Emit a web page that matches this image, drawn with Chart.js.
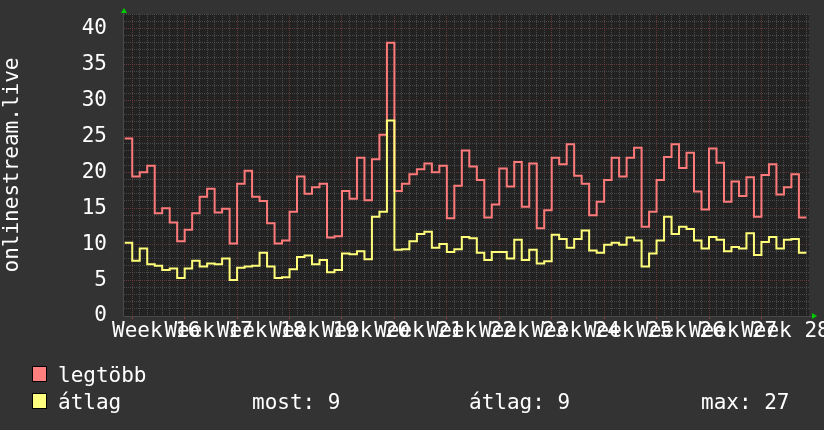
<!DOCTYPE html>
<html>
<head>
<meta charset="utf-8">
<script src="https://cdn.jsdelivr.net/npm/chart.js@4"></script>
<style>
    body { margin: 0; background: #333333; }
    #wrap { position: relative; width: 824px; height: 430px; overflow: hidden; }
    #chart { position: absolute; left: 0; top: 0; }
    .txt { position: absolute; font: 21px "DejaVu Sans Mono", monospace; line-height: 21px; color: #ffffff; white-space: pre; }
    .box { position: absolute; width: 15px; height: 16px; box-sizing: border-box; border: 1px solid #000; }
</style>
</head>
<body>
<div id="wrap">
    <canvas id="chart" width="824" height="430"></canvas>
    <div class="box" style="left:32px; top:366px; background:#ff7f7f"></div>
    <div class="txt" style="left:58px; top:365px">legtöbb</div>
    <div class="box" style="left:32px; top:393px; background:#ffff7f"></div>
    <div class="txt" style="left:58px; top:392px">átlag</div>
    <div class="txt" id="statNow" style="left:252px; top:392px"></div>
    <div class="txt" id="statAvg" style="left:469px; top:392px"></div>
    <div class="txt" id="statMax" style="left:701px; top:392px"></div>
</div>
<script>
// daily values
const legtobb = [
    24.7, 19.4, 20.0, 20.9, 14.3, 15.0, 13.0, 10.4, 12.0, 14.3, 16.6, 17.7, 14.4, 14.9, 10.1,
    18.4, 20.2, 16.6, 16.0, 12.9, 10.1, 10.5, 14.5, 19.4, 17.0, 17.9, 18.4, 10.9, 11.1, 17.4,
    16.3, 22.0, 16.1, 21.8, 25.2, 38.0, 17.4, 18.4, 19.7, 20.4, 21.2, 20.0, 20.9, 13.6, 18.1,
    23.0, 20.8, 18.9, 13.7, 15.5, 20.5, 18.0, 21.4, 15.2, 21.2, 12.2, 14.7, 22.0, 21.1, 23.9,
    19.5, 18.4, 14.0, 15.9, 18.9, 22.0, 19.4, 22.0, 23.4, 12.4, 14.5, 18.9, 22.1, 23.9, 20.6,
    22.7, 17.3, 14.8, 23.3, 21.3, 15.9, 18.7, 16.7, 19.3, 13.8, 19.6, 21.1, 16.9, 17.9, 19.7,
    13.7
];
const atlag = [
    10.2, 7.7, 9.4, 7.2, 7.0, 6.4, 6.6, 5.3, 6.6, 7.7, 6.9, 7.3, 7.2, 8.0, 5.0,
    6.7, 6.9, 7.0, 8.8, 6.9, 5.3, 5.4, 6.5, 8.2, 8.4, 7.2, 7.8, 6.1, 6.4, 8.7,
    8.6, 9.0, 7.9, 13.8, 14.5, 27.2, 9.2, 9.3, 10.4, 11.4, 11.7, 9.5, 10.0, 8.9, 9.3,
    11.0, 10.8, 8.8, 7.8, 8.9, 8.9, 8.0, 10.6, 7.8, 9.2, 7.3, 7.6, 11.3, 10.7, 9.5,
    10.7, 11.9, 9.1, 8.8, 9.9, 10.2, 9.9, 10.9, 10.5, 6.9, 8.7, 10.5, 13.8, 11.4, 12.4,
    12.1, 10.5, 9.4, 11.0, 10.6, 9.0, 9.6, 9.4, 11.5, 8.5, 10.3, 11.0, 9.4, 10.6, 10.7,
    8.8
];
const weekLabels = ['Week 16', 'Week 17', 'Week 18', 'Week 19', 'Week 20', 'Week 21', 'Week 22',
    'Week 23', 'Week 24', 'Week 25', 'Week 26', 'Week 27', 'Week 28'];
const yTicks = [0, 5, 10, 15, 20, 25, 30, 35, 40];

const MONO = '"DejaVu Sans Mono", monospace';
const majorGrid = 'rgba(125, 45, 45, 0.55)';
const minorGrid = 'rgba(105, 105, 105, 0.55)';

// each day is one step; extra point closes the last step
function steps(values) {
    const pts = values.map((v, i) => ({ x: i, y: v }));
    pts.push({ x: values.length, y: values[values.length - 1] });
    return pts;
}

const weekStarts = weekLabels.map((_, i) => 1 + i * 7);

const frame = {
    id: 'frame',
    beforeDraw(chart) {
        const { ctx, chartArea: a } = chart;
        ctx.save();
        ctx.fillStyle = '#333333';
        ctx.fillRect(0, 0, chart.width, chart.height);
        ctx.fillStyle = '#222222';
        ctx.fillRect(a.left, a.top, a.right - a.left, a.bottom - a.top);
        ctx.restore();
    },
    afterDraw(chart) {
        const { ctx, chartArea: a } = chart;
        ctx.save();
        ctx.strokeStyle = '#4a4a4a';
        ctx.lineWidth = 1;
        ctx.beginPath();
        ctx.moveTo(a.left - 0.5, a.bottom);
        ctx.lineTo(a.left - 0.5, a.top - 4);
        ctx.moveTo(a.left, a.bottom + 0.5);
        ctx.lineTo(a.right + 4, a.bottom + 0.5);
        ctx.stroke();
        // green arrows at the ends of the axes
        ctx.fillStyle = '#00cc00';
        ctx.beginPath();
        ctx.moveTo(a.left, a.top - 6);
        ctx.lineTo(a.left - 3, a.top - 1);
        ctx.lineTo(a.left + 3, a.top - 1);
        ctx.closePath();
        ctx.fill();
        ctx.beginPath();
        ctx.moveTo(a.right + 8, a.bottom);
        ctx.lineTo(a.right + 3, a.bottom - 3);
        ctx.lineTo(a.right + 3, a.bottom + 3);
        ctx.closePath();
        ctx.fill();
        ctx.restore();
    }
};

new Chart(document.getElementById('chart'), {
    type: 'line',
    data: {
        datasets: [{
            label: 'legtöbb',
            data: steps(legtobb),
            borderColor: '#ff7a7a',
            borderWidth: 2,
            stepped: true,
            pointRadius: 0,
            fill: false,
            order: 2
        }, {
            label: 'átlag',
            data: steps(atlag),
            borderColor: '#ffff7a',
            borderWidth: 2,
            stepped: true,
            pointRadius: 0,
            fill: false,
            order: 1
        }]
    },
    options: {
        responsive: false,
        animation: false,
        layout: { padding: { top: 14, right: 15, left: 0, bottom: 0 } },
        plugins: { legend: { display: false }, tooltip: { enabled: false } },
        scales: {
            xMinor: {
                type: 'linear', position: 'bottom', min: -0.1, max: 91.35,
                afterBuildTicks: s => { s.ticks = legtobb.map((_, i) => ({ value: i + 1 })); },
                afterFit: s => { s.height = 0; s.paddingLeft = 0; s.paddingRight = 0; },
                grid: { color: minorGrid, drawTicks: false },
                border: { display: false, dash: [1, 1] },
                ticks: { display: false }
            },
            yMinor: {
                type: 'linear', position: 'left', min: 0, max: 42,
                afterBuildTicks: s => { s.ticks = Array.from({ length: 43 }, (_, i) => ({ value: i })); },
                afterFit: s => { s.width = 0; s.paddingTop = 0; s.paddingBottom = 0; },
                grid: { color: minorGrid, drawTicks: false },
                border: { display: false, dash: [1, 1] },
                ticks: { display: false }
            },
            x: {
                type: 'linear', position: 'bottom', min: -0.1, max: 91.35,
                afterBuildTicks: s => { s.ticks = weekStarts.map(v => ({ value: v })); },
                afterFit: s => { s.height = 114; s.paddingLeft = 0; s.paddingRight = 0; },
                grid: { color: majorGrid, tickColor: 'rgba(170, 60, 60, 0.8)', tickLength: 3 },
                border: { display: false, dash: [1, 1] },
                ticks: {
                    autoSkip: false, maxRotation: 0, minRotation: 0,
                    labelOffset: 24, padding: 0, color: '#ffffff',
                    font: { family: MONO, size: 21 },
                    callback: (v, i) => weekLabels[i]
                }
            },
            y: {
                type: 'linear', position: 'left', min: 0, max: 42,
                afterBuildTicks: s => { s.ticks = yTicks.map(v => ({ value: v })); },
                afterFit: s => { s.width = 124; s.paddingTop = 0; s.paddingBottom = 0; },
                grid: { color: majorGrid, drawTicks: false },
                border: { display: false, dash: [1, 1] },
                ticks: { padding: 17, color: '#ffffff', font: { family: MONO, size: 21 } },
                title: {
                    display: true, text: 'onlinestream.live', color: '#ffffff',
                    font: { family: MONO, size: 21 }, padding: 0
                }
            }
        }
    },
    plugins: [frame]
});

// legend figures come from the average series
const avg = atlag.reduce((a, b) => a + b, 0) / atlag.length;
document.getElementById('statNow').textContent = 'most: ' + Math.round(atlag[atlag.length - 1]);
document.getElementById('statAvg').textContent = 'átlag: ' + Math.round(avg);
document.getElementById('statMax').textContent = 'max: ' + Math.round(Math.max(...atlag));
</script>
</body>
</html>
